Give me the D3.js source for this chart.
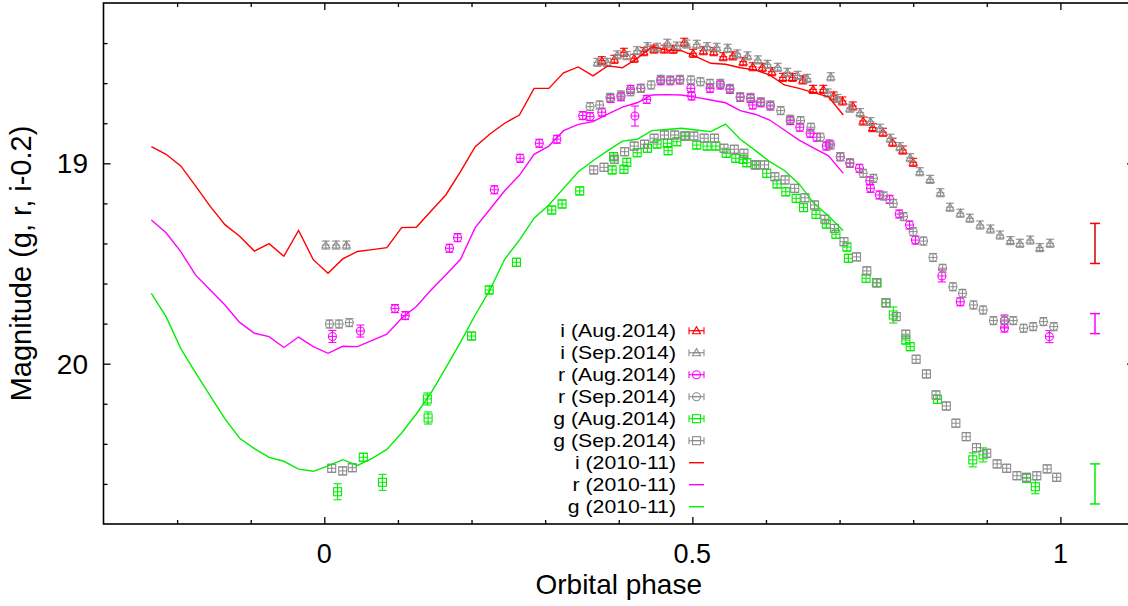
<!DOCTYPE html>
<html><head><meta charset="utf-8">
<script src="https://cdn.jsdelivr.net/npm/d3@7"></script>
<style>body{margin:0;background:#fff}svg{display:block}text{font-family:"Liberation Sans",Arial,sans-serif;fill:#000}</style>
</head><body><svg id="c" width="1128" height="606"></svg>
<script>
// ---------- data: [phase, magnitude, (error)] ----------
const iAug = [[0.377,18.488],[0.394,18.481],[0.407,18.446],[0.421,18.476],[0.434,18.443],[0.448,18.430],[0.462,18.430],[0.474,18.431],[0.489,18.396],[0.501,18.451],[0.515,18.438],[0.529,18.443],[0.542,18.468],[0.555,18.464],[0.569,18.493],[0.582,18.518],[0.595,18.521],[0.608,18.543],[0.623,18.571],[0.636,18.571],[0.650,18.584],[0.664,18.631],[0.678,18.631],[0.692,18.664],[0.704,18.689],[0.718,18.714],[0.732,18.789],[0.745,18.822],[0.759,18.845],[0.772,18.895],[0.786,18.934],[0.800,18.995]];
const iSep = [[0.002,19.408],[0.016,19.408],[0.030,19.408],[0.371,18.496],[0.384,18.496],[0.398,18.459],[0.411,18.463],[0.425,18.438],[0.439,18.418],[0.452,18.421],[0.466,18.401],[0.479,18.415],[0.492,18.405],[0.506,18.406],[0.520,18.418],[0.533,18.421],[0.548,18.426],[0.561,18.454],[0.575,18.464],[0.589,18.484],[0.602,18.506],[0.616,18.521],[0.629,18.546],[0.643,18.561],[0.656,18.576],[0.684,18.649],[0.688,18.568],[0.697,18.676],[0.714,18.725],[0.728,18.747],[0.742,18.792],[0.755,18.825],[0.769,18.875],[0.782,18.917],[0.796,18.972],[0.809,19.042],[0.823,19.080],[0.837,19.147],[0.850,19.219],[0.864,19.249],[0.877,19.274],[0.891,19.308],[0.905,19.328],[0.918,19.358],[0.932,19.386],[0.945,19.399],[0.959,19.383],[0.972,19.421],[0.986,19.399]];
const rAug = [[0.011,19.864,0.03],[0.049,19.837,0.03],[0.096,19.725],[0.110,19.760],[0.170,19.424],[0.181,19.371],[0.231,19.132],[0.266,18.975],[0.292,18.900],[0.316,18.880],[0.351,18.762],[0.361,18.767],[0.377,18.745],[0.389,18.676],[0.403,18.668],[0.416,18.631],[0.422,18.764,0.05],[0.430,18.626],[0.438,18.681],[0.457,18.588],[0.470,18.588],[0.483,18.584],[0.498,18.626],[0.499,18.664],[0.524,18.626],[0.538,18.609],[0.551,18.631],[0.565,18.671],[0.579,18.676],[0.582,18.709],[0.593,18.698],[0.606,18.714],[0.633,18.787],[0.646,18.820],[0.660,18.850],[0.669,18.870],[0.682,18.914],[0.686,18.904],[0.701,18.967],[0.714,19.000],[0.727,19.025],[0.741,19.087],[0.742,19.125],[0.754,19.158],[0.768,19.180],[0.781,19.253],[0.795,19.308],[0.803,19.383],[0.839,19.562,0.03],[0.864,19.691],[0.924,19.787,0.03],[0.924,19.822],[0.985,19.865,0.03]];
const rSep = [[0.007,19.802],[0.020,19.802],[0.034,19.795],[0.361,18.717],[0.374,18.709],[0.388,18.671],[0.403,18.659],[0.416,18.643],[0.430,18.626],[0.444,18.609],[0.457,18.581],[0.470,18.584],[0.483,18.581],[0.498,18.584],[0.511,18.593],[0.524,18.601],[0.538,18.601],[0.551,18.626],[0.565,18.668],[0.579,18.671],[0.593,18.693],[0.606,18.709],[0.620,18.737],[0.633,18.780],[0.647,18.787],[0.661,18.820],[0.674,18.870],[0.688,18.909],[0.701,18.967],[0.714,18.997],[0.732,19.050],[0.746,19.075],[0.760,19.163],[0.773,19.200],[0.787,19.266],[0.800,19.341],[0.814,19.388],[0.827,19.470],[0.840,19.524],[0.854,19.616],[0.867,19.649],[0.882,19.707],[0.895,19.732],[0.909,19.785],[0.924,19.782],[0.936,19.785],[0.950,19.823],[0.963,19.815],[0.977,19.790],[0.991,19.815]];
const gAug = [[0.018,20.639,0.04],[0.053,20.467,0.02],[0.079,20.592,0.04],[0.140,20.176,0.03],[0.141,20.271,0.03],[0.200,19.862],[0.224,19.632],[0.261,19.494],[0.309,19.233],[0.323,19.203],[0.347,19.138],[0.391,19.033],[0.393,18.967],[0.407,19.030],[0.411,18.995],[0.425,18.947],[0.439,18.925],[0.452,18.904],[0.466,18.900],[0.467,18.937],[0.479,18.892],[0.491,18.864],[0.506,18.909],[0.520,18.914],[0.532,18.914],[0.546,18.950],[0.559,18.975],[0.569,18.980],[0.574,18.997],[0.587,19.008],[0.601,19.050],[0.615,19.103],[0.627,19.142],[0.641,19.175],[0.651,19.221],[0.668,19.255],[0.682,19.303],[0.695,19.354],[0.710,19.418],[0.712,19.474],[0.736,19.574],[0.751,19.596],[0.763,19.696],[0.773,19.757,0.04],[0.790,19.882],[0.796,19.915],[0.833,20.178],[0.881,20.480,0.035],[0.895,20.455,0.035],[0.954,20.572],[0.966,20.614,0.035]];
const gSep = [[0.010,20.522],[0.025,20.535],[0.038,20.519],[0.366,19.033],[0.380,19.020],[0.394,18.980],[0.408,18.942],[0.421,18.914],[0.435,18.905],[0.448,18.875],[0.462,18.859],[0.476,18.859],[0.489,18.864],[0.502,18.864],[0.516,18.875],[0.530,18.875],[0.543,18.925],[0.557,18.930],[0.570,18.950],[0.585,19.008],[0.598,19.008],[0.612,19.067],[0.626,19.083],[0.639,19.125],[0.653,19.172],[0.666,19.208],[0.680,19.279],[0.693,19.325],[0.706,19.391],[0.723,19.467],[0.737,19.537],[0.750,19.596],[0.763,19.696],[0.777,19.765],[0.790,19.853],[0.804,19.978],[0.818,20.051],[0.831,20.156],[0.845,20.211],[0.858,20.297],[0.872,20.364],[0.886,20.419],[0.900,20.447],[0.914,20.500],[0.927,20.522],[0.941,20.559],[0.954,20.567],[0.968,20.559],[0.982,20.525],[0.995,20.567]];
const defaultErr = 0.02;

// 2010-11 light curves
const linePhase = [-0.235,-0.215,-0.195,-0.175,-0.155,-0.135,-0.115,-0.095,-0.075,-0.055,-0.035,-0.015,0.005,0.025,0.045,0.065,0.085,0.105,0.125,0.145,0.165,0.185,0.205,0.225,0.245,0.265,0.285,0.305,0.325,0.345,0.365,0.385,0.405,0.425,0.445,0.465,0.485,0.505,0.525,0.545,0.565,0.585,0.605,0.625,0.645,0.665,0.685,0.705];
const iLine = [18.917,18.955,19.013,19.113,19.215,19.306,19.364,19.438,19.401,19.464,19.335,19.481,19.549,19.477,19.440,19.431,19.421,19.321,19.319,19.238,19.158,19.042,18.917,18.854,18.800,18.759,18.626,18.626,18.548,18.519,18.564,18.514,18.523,18.476,18.418,18.435,18.438,18.468,18.501,18.506,18.523,18.534,18.559,18.609,18.626,18.647,18.668,18.759];
const rLine = [19.283,19.347,19.441,19.557,19.632,19.707,19.794,19.848,19.865,19.919,19.867,19.915,19.948,19.913,19.915,19.884,19.853,19.773,19.715,19.632,19.557,19.479,19.321,19.229,19.137,19.060,18.955,18.914,18.837,18.806,18.792,18.754,18.720,18.698,18.659,18.657,18.659,18.671,18.684,18.698,18.737,18.755,18.784,18.834,18.884,18.924,18.963,19.050];
const gLine = [19.649,19.765,19.925,20.044,20.160,20.275,20.372,20.424,20.468,20.487,20.526,20.537,20.510,20.479,20.508,20.472,20.428,20.346,20.251,20.146,20.021,19.892,19.757,19.632,19.479,19.383,19.274,19.208,19.125,19.042,18.987,18.937,18.889,18.880,18.837,18.831,18.825,18.834,18.842,18.804,18.880,18.934,18.992,19.036,19.103,19.200,19.263,19.336];

// typical 2010-11 errors drawn at the right
const typicalPhase = 1.047;
const typicalBars = [["i",19.40,0.10],["r",19.80,0.05],["g",20.60,0.10]];

// axes
const xDomain = [-0.3, 1.1];
const yDomain = [18.2, 20.8];
const xMajor = [0, 0.5, 1];
const xMinor = [-0.2,-0.1,0.1,0.2,0.3,0.4,0.6,0.7,0.8,0.9];
const yMajor = [19, 20];
const yMinor = [18.4,18.6,18.8,19.2,19.4,19.6,19.8,20.2,20.4,20.6];
const xLabel = "Orbital phase";
const yLabel = "Magnitude (g, r, i-0.2)";

// ---------- drawing ----------
const colors = {red:"#ff0000", magenta:"#ff00ff", green:"#00ee00", gray:"#8c8c8c"};
const L = 103.5, R = 1134, T = 3, B = 524;
const svg = d3.select("#c");
const x = d3.scaleLinear().domain(xDomain).range([L, R]);
const y = d3.scaleLinear().domain(yDomain).range([T, B]);

const ax = svg.append("g");
function tickAxis(gen, tf, vals, size) {
  const g = ax.append("g").attr("transform", tf)
    .call(gen.tickValues(vals).tickSize(size).tickSizeOuter(0).tickFormat(""));
  g.select(".domain").remove();
  g.selectAll("line").attr("stroke", "#000").attr("stroke-width", 1.3);
}
tickAxis(d3.axisBottom(x), `translate(0,${B})`, xMajor, -7);
tickAxis(d3.axisBottom(x), `translate(0,${B})`, xMinor, -4);
tickAxis(d3.axisTop(x), `translate(0,${T})`, xMajor, -7);
tickAxis(d3.axisTop(x), `translate(0,${T})`, xMinor, -4);
tickAxis(d3.axisLeft(y), `translate(${L},0)`, yMajor, -7);
tickAxis(d3.axisLeft(y), `translate(${L},0)`, yMinor, -4);
tickAxis(d3.axisRight(y), `translate(${R},0)`, yMajor, -7);
tickAxis(d3.axisRight(y), `translate(${R},0)`, yMinor, -4);

svg.append("rect").attr("x", L).attr("y", T).attr("width", R - L).attr("height", B - T)
  .attr("fill", "none").attr("stroke", "#000").attr("stroke-width", 1.6);

// tick labels
svg.append("g").selectAll("text").data(xMajor).join("text")
  .attr("x", d => x(d)).attr("y", 563).attr("text-anchor", "middle")
  .attr("font-size", 27).text(d => d3.format("")(d));
svg.append("g").selectAll("text").data(yMajor).join("text")
  .attr("x", 88).attr("y", d => y(d) + 10).attr("text-anchor", "end")
  .attr("font-size", 28).text(d => d);
svg.append("text").attr("x", (L + R) / 2).attr("y", 594).attr("text-anchor", "middle")
  .attr("font-size", 28).text(xLabel);
svg.append("text").attr("transform", `translate(31,${(T + B) / 2}) rotate(-90)`)
  .attr("text-anchor", "middle").attr("font-size", 29).text(yLabel);

// markers
function marker(g, shape, cx, cy, color) {
  const s = 4;
  if (shape === "square") {
    g.append("rect").attr("x", cx - s).attr("y", cy - s).attr("width", 2 * s).attr("height", 2 * s)
      .attr("fill", "none").attr("stroke", color).attr("stroke-width", 1.1);
  } else if (shape === "circle") {
    g.append("circle").attr("cx", cx).attr("cy", cy).attr("r", s)
      .attr("fill", "none").attr("stroke", color).attr("stroke-width", 1.1);
  } else {
    g.append("path").attr("d", `M${cx - s},${cy + 3}L${cx},${cy - 4}L${cx + s},${cy + 3}Z`)
      .attr("fill", "none").attr("stroke", color).attr("stroke-width", 1.1);
  }
  g.append("line").attr("x1", cx - s).attr("x2", cx + s).attr("y1", cy).attr("y2", cy)
    .attr("stroke", color).attr("stroke-width", 1);
}
function errSeries(data, shape, color) {
  const g = svg.append("g");
  data.forEach(d => {
    const e = d[2] !== undefined ? d[2] : defaultErr;
    const cx = x(d[0]), y0 = y(d[1] - e), y1 = y(d[1] + e);
    g.append("line").attr("x1", cx).attr("x2", cx).attr("y1", y0).attr("y2", y1)
      .attr("stroke", color).attr("stroke-width", 1.1);
    [y0, y1].forEach(yy => g.append("line").attr("x1", cx - 4).attr("x2", cx + 4)
      .attr("y1", yy).attr("y2", yy).attr("stroke", color).attr("stroke-width", 1.1));
    marker(g, shape, cx, y(d[1]), color);
  });
}
errSeries(iAug, "triangle", colors.red);
errSeries(iSep, "triangle", colors.gray);
errSeries(rAug, "circle", colors.magenta);
errSeries(rSep, "circle", colors.gray);
errSeries(gAug, "square", colors.green);
errSeries(gSep, "square", colors.gray);

const line = d3.line().x(d => x(d[0])).y(d => y(d[1]));
[[iLine, colors.red], [rLine, colors.magenta], [gLine, colors.green]].forEach(([vals, c]) => {
  svg.append("path").datum(linePhase.map((p, i) => [p, vals[i]])).attr("d", line)
    .attr("fill", "none").attr("stroke", c).attr("stroke-width", 1.4);
});

// typical error bars
const bandColor = {i: colors.red, r: colors.magenta, g: colors.green};
typicalBars.forEach(([b, m, e]) => {
  const cx = x(typicalPhase), c = bandColor[b];
  svg.append("line").attr("x1", cx).attr("x2", cx).attr("y1", y(m - e)).attr("y2", y(m + e))
    .attr("stroke", b === "i" ? "#d00000" : c).attr("stroke-width", 1.5);
  [m - e, m + e].forEach(v => svg.append("line").attr("x1", cx - 5).attr("x2", cx + 5)
    .attr("y1", y(v)).attr("y2", y(v)).attr("stroke", c).attr("stroke-width", 1.5));
});

// legend
const legend = [
  ["i (Aug.2014)", "triangle", colors.red, true],
  ["i (Sep.2014)", "triangle", colors.gray, true],
  ["r (Aug.2014)", "circle", colors.magenta, true],
  ["r (Sep.2014)", "circle", colors.gray, true],
  ["g (Aug.2014)", "square", colors.green, true],
  ["g (Sep.2014)", "square", colors.gray, true],
  ["i (2010-11)", null, colors.red, false],
  ["r (2010-11)", null, colors.magenta, false],
  ["g (2010-11)", null, colors.green, false]
];
const lg = svg.append("g");
legend.forEach(([label, shape, c, pts], k) => {
  const cy = 330.7 + k * 22;
  lg.append("text").attr("transform", `translate(676,${cy + 6.5}) scale(1.18,1)`)
    .attr("text-anchor", "end").attr("font-size", 18).text(label);
  lg.append("line").attr("x1", 689).attr("x2", 704).attr("y1", cy).attr("y2", cy)
    .attr("stroke", c).attr("stroke-width", pts ? 1.1 : 1.4);
  if (pts) {
    [689, 704].forEach(xx => lg.append("line").attr("x1", xx).attr("x2", xx)
      .attr("y1", cy - 3.5).attr("y2", cy + 3.5).attr("stroke", c).attr("stroke-width", 1.1));
    marker(lg, shape, 696.5, cy, c);
  }
});
</script></body></html>
